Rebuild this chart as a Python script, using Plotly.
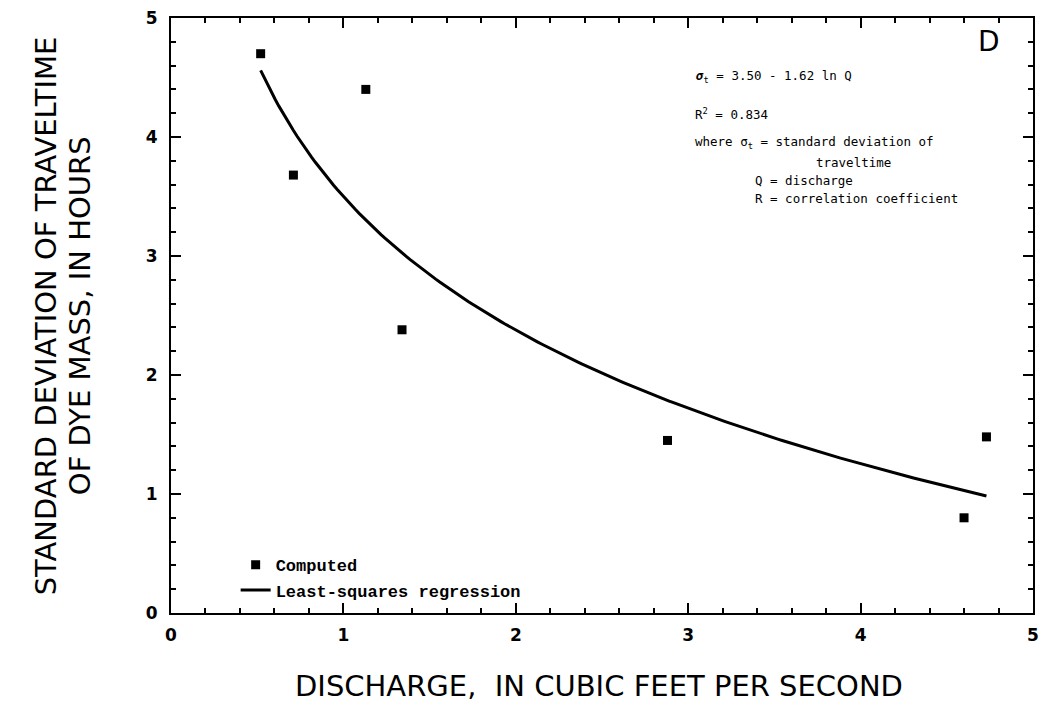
import numpy as np
import plotly.graph_objects as go

# Measured dye-cloud spread versus stream discharge
discharge_cfs = [0.52, 1.13, 0.71, 1.34, 2.88, 4.60, 4.73]
sigma_hours = [4.70, 4.40, 3.68, 2.38, 1.45, 0.80, 1.48]

# Least-squares fit: sigma_t = a - b ln Q
fit_intercept = 3.50
fit_slope = 1.62
fit_r2 = 0.834
fit_q_min = 0.52
fit_q_max = 4.73

tick_values = [0, 1, 2, 3, 4, 5]
tick_text = ["0", "1", "2", "3", "4", "5"]

q_fit = np.linspace(fit_q_min, fit_q_max, 200)
sigma_fit = fit_intercept - fit_slope * np.log(q_fit)

mono = "DejaVu Sans Mono, Liberation Mono, Courier New, monospace"
legend_mono = "Liberation Mono, DejaVu Sans Mono, Courier New, monospace"
sans = "DejaVu Sans, Arial, sans-serif"

fig = go.Figure()
fig.add_trace(go.Scatter(
    x=discharge_cfs, y=sigma_hours, mode="markers", name="Computed",
    marker=dict(symbol="square", size=9, color="black"),
    legendgroup="a",
))
fig.add_trace(go.Scatter(
    x=q_fit, y=sigma_fit, mode="lines", name="Least-squares regression",
    line=dict(color="black", width=3),
    legendgroup="b",
))

axis_common = dict(
    range=[0, 5], tickmode="array", tickvals=tick_values, ticktext=tick_text,
    ticks="inside", ticklen=10, tickwidth=2, tickcolor="black",
    showline=True, linewidth=2, linecolor="black", mirror="allticks",
    showgrid=False, zeroline=False,
    minor=dict(ticks="inside", dtick=0.2, ticklen=5, tickwidth=1.5,
               tickcolor="black", showgrid=False),
    tickfont=dict(family=sans, size=17, color="black", weight="bold"),
)

L, R, T, B = 171, 4, 18, 103
W, H = 1043, 716

fig.update_layout(
    width=W, height=H,
    margin=dict(l=L, r=R, t=T, b=B),
    paper_bgcolor="white", plot_bgcolor="white",
    xaxis=dict(**axis_common, ticklabelstandoff=6),
    yaxis=dict(**axis_common, ticklabelstandoff=8),
    showlegend=True,
    legend=dict(
        x=0.075, y=0.008, xanchor="left", yanchor="bottom",
        bgcolor="rgba(0,0,0,0)", borderwidth=0,
        font=dict(family=legend_mono, size=17, color="black", weight="bold"),
        tracegroupgap=11, traceorder="normal",
    ),
)

plot_w = W - L - R
plot_h = H - T - B


def px_x(p):
    return (p - L) / plot_w


def px_y(p):
    return (H - B - p) / plot_h


ann = []
# axis titles
ann.append(dict(text="STANDARD DEVIATION OF TRAVELTIME", x=px_x(45), y=0.5,
                xref="paper", yref="paper", textangle=-90, showarrow=False,
                xanchor="center", yanchor="middle",
                font=dict(family=sans, size=29, color="black")))
ann.append(dict(text="OF DYE MASS, IN HOURS", x=px_x(79), y=0.5,
                xref="paper", yref="paper", textangle=-90, showarrow=False,
                xanchor="center", yanchor="middle",
                font=dict(family=sans, size=29, color="black")))
ann.append(dict(text="DISCHARGE,\u00a0 IN CUBIC FEET PER SECOND", x=px_x(602), y=px_y(686),
                xref="paper", yref="paper", showarrow=False,
                xanchor="center", yanchor="middle",
                font=dict(family=sans, size=29, color="black")))
# panel letter
ann.append(dict(text="D", x=px_x(995), y=px_y(42), xref="paper", yref="paper",
                showarrow=False, xanchor="center", yanchor="middle",
                font=dict(family=sans, size=28, color="black")))

# equation block
eq_lines = [
    ("<b><i>\u03c3</i></b><sub>t</sub> = %.2f - %.2f ln Q" % (fit_intercept, fit_slope), 697, 76),
    ("R<sup>2</sup> = %.3f" % fit_r2, 697, 114),
    ("where \u03c3<sub>t</sub> = standard deviation of", 697, 142),
    ("traveltime", 818, 162),
    ("Q = discharge", 757, 180),
    ("R = correlation coefficient", 757, 198),
]
for txt, lx, ly in eq_lines:
    ann.append(dict(text=txt, x=px_x(lx), y=px_y(ly), xref="paper", yref="paper",
                    showarrow=False, xanchor="left", yanchor="middle",
                    font=dict(family=mono, size=12.5, color="black")))

fig.update_layout(annotations=ann)
fig.write_html("out.html")
